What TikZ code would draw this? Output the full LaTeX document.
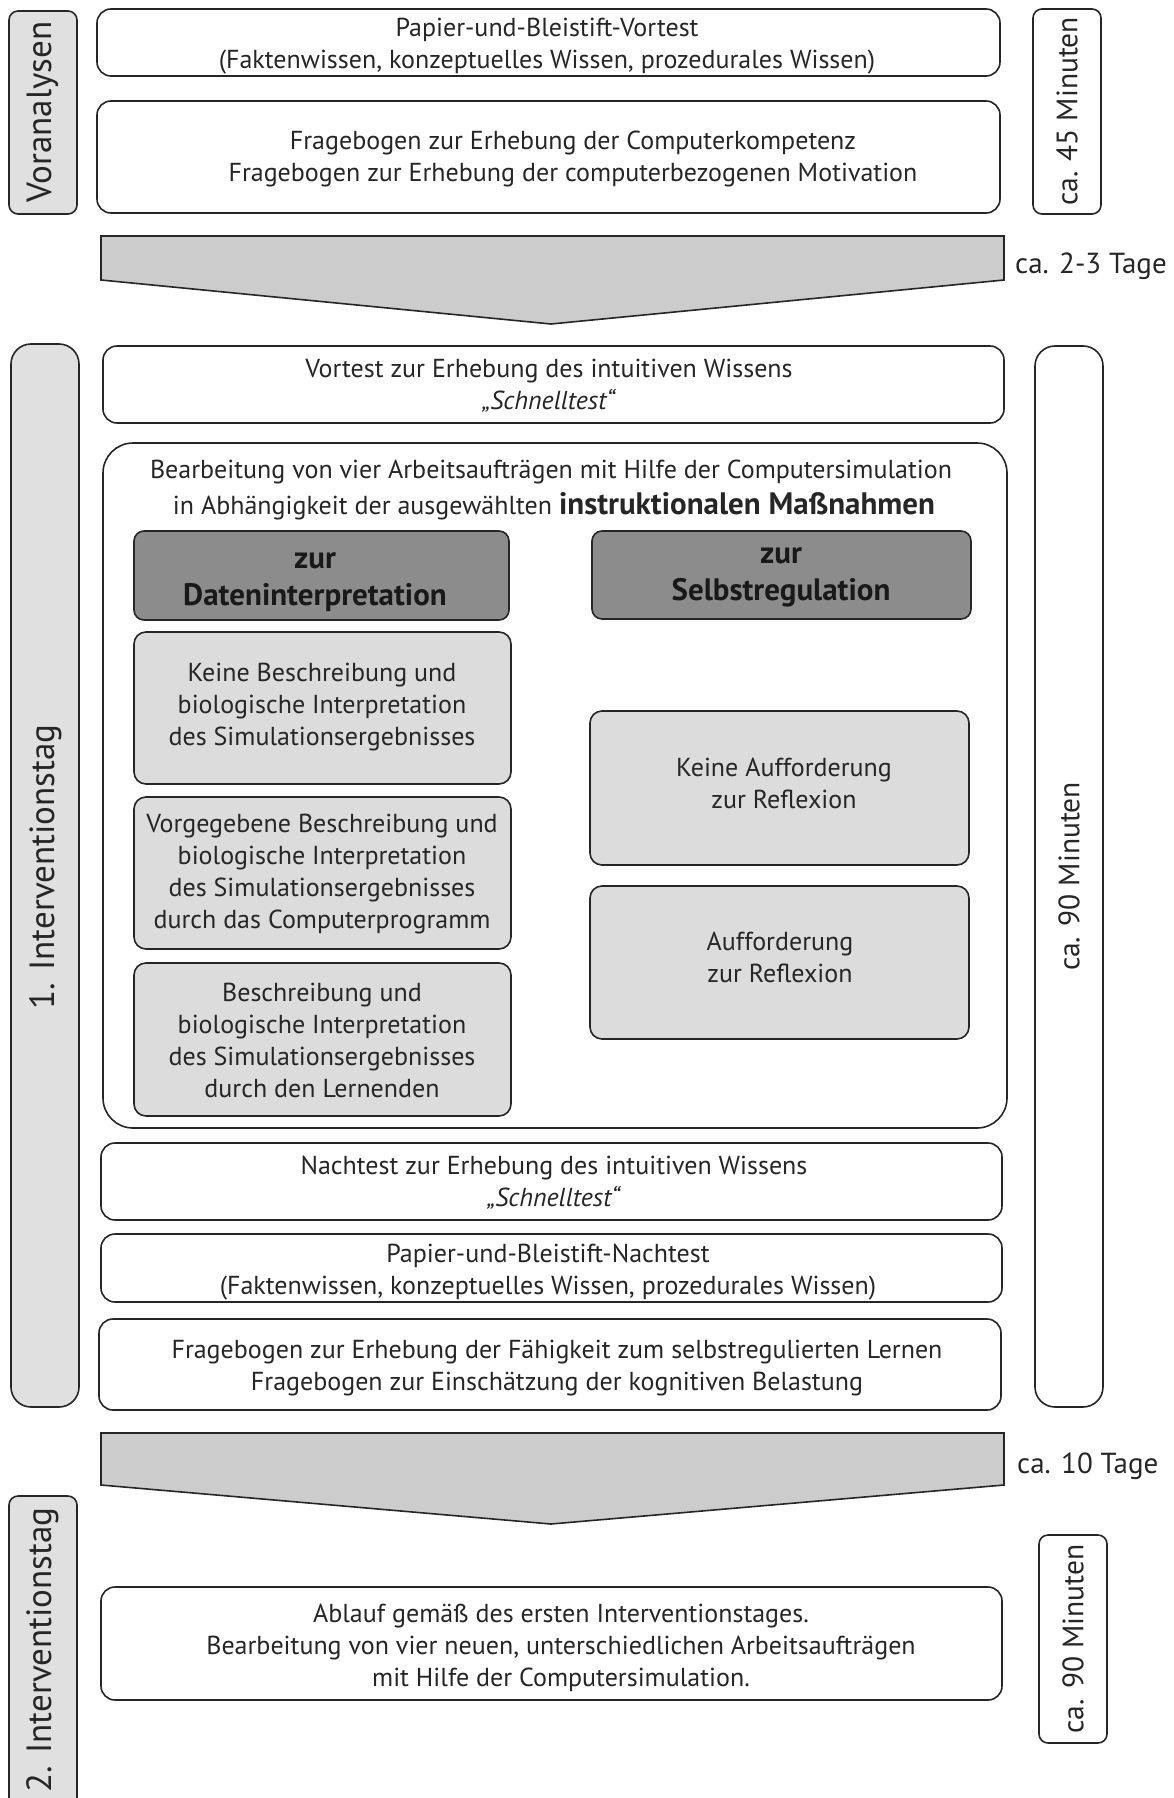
\documentclass[tikz,border=0pt]{standalone}
\usepackage{fontspec}
\setmainfont{PT Sans}
\definecolor{lg}{HTML}{E0E0E0}
\definecolor{lbox}{HTML}{DCDCDC}
\definecolor{dbox}{HTML}{8C8C8C}
\definecolor{arr}{HTML}{CCCCCC}
\definecolor{ln}{HTML}{262626}
\begin{document}
\begin{tikzpicture}[x=1pt,y=-1pt,
  base/.style={draw=ln, line width=1.6pt, inner sep=0pt},
  wbox/.style={base, fill=white, rounded corners=14pt},
  side/.style={base, rounded corners=9pt},
  lbx/.style={base, fill=lbox, rounded corners=12pt},
  dbx/.style={base, fill=dbox, rounded corners=10pt},
  txt/.style={align=center, font=\fontsize{26}{32}\selectfont, inner sep=0pt, text=ln},
  btxt/.style={align=center, font=\fontsize{31}{37}\selectfont\bfseries, inner sep=0pt, text=black!90},
  rtxt/.style={rotate=90, font=\fontsize{29.5}{34}\selectfont, inner sep=0pt, text=ln},
  rbig/.style={rtxt, font=\fontsize{35}{40}\selectfont},
  ttxt/.style={txt, font=\fontsize{29}{34}\selectfont, anchor=west},
  arrowshape/.style={draw=ln, line width=1.6pt, fill=arr, line join=miter}
]
\useasboundingbox (0,0) rectangle (1173,1798);

% --- Voranalysen ---
\node[side, fill=lg, minimum width=68pt, minimum height=203pt] (vor) at (43,112.5) {};
\node[rbig] (vort) at (43,112) {Voranalysen};
\node[wbox, minimum width=903pt, minimum height=67pt] (b1) at (548.5,42.5) {};
\node[txt] (b1t) at (547,46) {Papier-und-Bleistift-Vortest\\(Faktenwissen, konzeptuelles Wissen, prozedurales Wissen)};
\node[wbox, minimum width=903pt, minimum height=112pt] (b2) at (548.5,157) {};
\node[txt] (b2t) at (573,159) {Fragebogen zur Erhebung der Computerkompetenz\\Fragebogen zur Erhebung der computerbezogenen Motivation};
\node[side, fill=white, minimum width=68pt, minimum height=205pt] (m45) at (1067,111.5) {};
\node[rtxt] (m45t) at (m45.center) {ca. 45 Minuten};

% --- arrow 1 ---
\coordinate (a1a) at (101,236);
\coordinate (a1b) at (1004,236);
\coordinate (a1c) at (1004,280);
\coordinate (a1d) at (551,324);
\coordinate (a1e) at (101,280);
\draw[arrowshape] (a1a) -- (a1b) -- (a1c) -- (a1d) -- (a1e) -- cycle;
\node[ttxt] (tage1) at (1015,266) {ca. 2-3 Tage};

% --- 1. Interventionstag ---
\node[side, fill=lg, rounded corners=20pt, minimum width=68pt, minimum height=1063pt] (iv1) at (45,875.5) {};
\node[rbig] (iv1t) at (46,867) {1. Interventionstag};
\node[side, fill=white, rounded corners=20pt, minimum width=68pt, minimum height=1061pt] (m90a) at (1069,876.5) {};
\node[rtxt] (m90at) at (m90a.center) {ca. 90 Minuten};

\node[wbox, minimum width=901pt, minimum height=77pt] (vt) at (553.5,384.5) {};
\node[txt] (vtt) at (549,386) {Vortest zur Erhebung des intuitiven Wissens\\\textit{„Schnelltest“}};

\node[wbox, rounded corners=30pt, minimum width=904pt, minimum height=685pt] (big) at (555,785.5) {};
\node[txt] (bigt1) at (551,472) {Bearbeitung von vier Arbeitsaufträgen mit Hilfe der Computersimulation};
\node[txt] (bigt2) at (554,506) {in Abhängigkeit der ausgewählten {\fontsize{31}{32}\selectfont\bfseries instruktionalen Maßnahmen}};

\node[dbx, minimum width=375pt, minimum height=89pt] (dl) at (321.5,575.5) {};
\node[btxt] (dlt) at (315,582) {zur\\Dateninterpretation};
\node[dbx, minimum width=379pt, minimum height=88pt] (dr) at (781.5,575) {};
\node[btxt] (drt) at (781,577) {zur\\Selbstregulation};

\node[lbx, minimum width=377pt, minimum height=152pt] (l1) at (322.5,708) {};
\node[txt] (l1t) at (322,707) {Keine Beschreibung und\\biologische Interpretation\\des Simulationsergebnisses};
\node[lbx, minimum width=377pt, minimum height=152pt] (l2) at (322.5,873) {};
\node[txt] (l2t) at (322,874) {Vorgegebene Beschreibung und\\biologische Interpretation\\des Simulationsergebnisses\\durch das Computerprogramm};
\node[lbx, minimum width=377pt, minimum height=153pt] (l3) at (322.5,1039.5) {};
\node[txt] (l3t) at (322,1040) {Beschreibung und\\biologische Interpretation\\des Simulationsergebnisses\\durch den Lernenden};

\node[lbx, minimum width=379pt, minimum height=154pt] (r1) at (779.5,788) {};
\node[txt] (r1t) at (784,783) {Keine Aufforderung\\zur Reflexion};
\node[lbx, minimum width=379pt, minimum height=153pt] (r2) at (779.5,962.5) {};
\node[txt] (r2t) at (780,957) {Aufforderung\\zur Reflexion};

\node[wbox, minimum width=901pt, minimum height=77pt] (nt) at (551.5,1181.5) {};
\node[txt] (ntt) at (554,1183) {Nachtest zur Erhebung des intuitiven Wissens\\\textit{„Schnelltest“}};
\node[wbox, minimum width=901pt, minimum height=68pt] (pn) at (551.5,1268) {};
\node[txt] (pnt) at (548,1272) {Papier-und-Bleistift-Nachtest\\(Faktenwissen, konzeptuelles Wissen, prozedurales Wissen)};
\node[wbox, minimum width=902pt, minimum height=91pt] (fb) at (550,1364.5) {};
\node[txt] (fbt) at (557,1368) {Fragebogen zur Erhebung der Fähigkeit zum selbstregulierten Lernen\\Fragebogen zur Einschätzung der kognitiven Belastung};

% --- arrow 2 ---
\coordinate (a2a) at (101,1433);
\coordinate (a2b) at (1004,1433);
\coordinate (a2c) at (1004,1485);
\coordinate (a2d) at (551,1524);
\coordinate (a2e) at (101,1485);
\draw[arrowshape] (a2a) -- (a2b) -- (a2c) -- (a2d) -- (a2e) -- cycle;
\node[ttxt] (tage2) at (1017,1466) {ca. 10 Tage};

% --- 2. Interventionstag ---
\node[side, fill=lg, minimum width=68pt, minimum height=330pt] (iv2) at (43,1661) {};
\node[rbig] (iv2t) at (43,1650) {2. Interventionstag};
\node[wbox, minimum width=901pt, minimum height=113pt] (ab) at (551.5,1643.5) {};
\node[txt] (abt) at (561,1648) {Ablauf gemäß des ersten Interventionstages.\\Bearbeitung von vier neuen, unterschiedlichen Arbeitsaufträgen\\mit Hilfe der Computersimulation.};
\node[side, fill=white, minimum width=68pt, minimum height=208pt] (m90b) at (1073,1639) {};
\node[rtxt] (m90bt) at (m90b.center) {ca. 90 Minuten};
\end{tikzpicture}
\end{document}
